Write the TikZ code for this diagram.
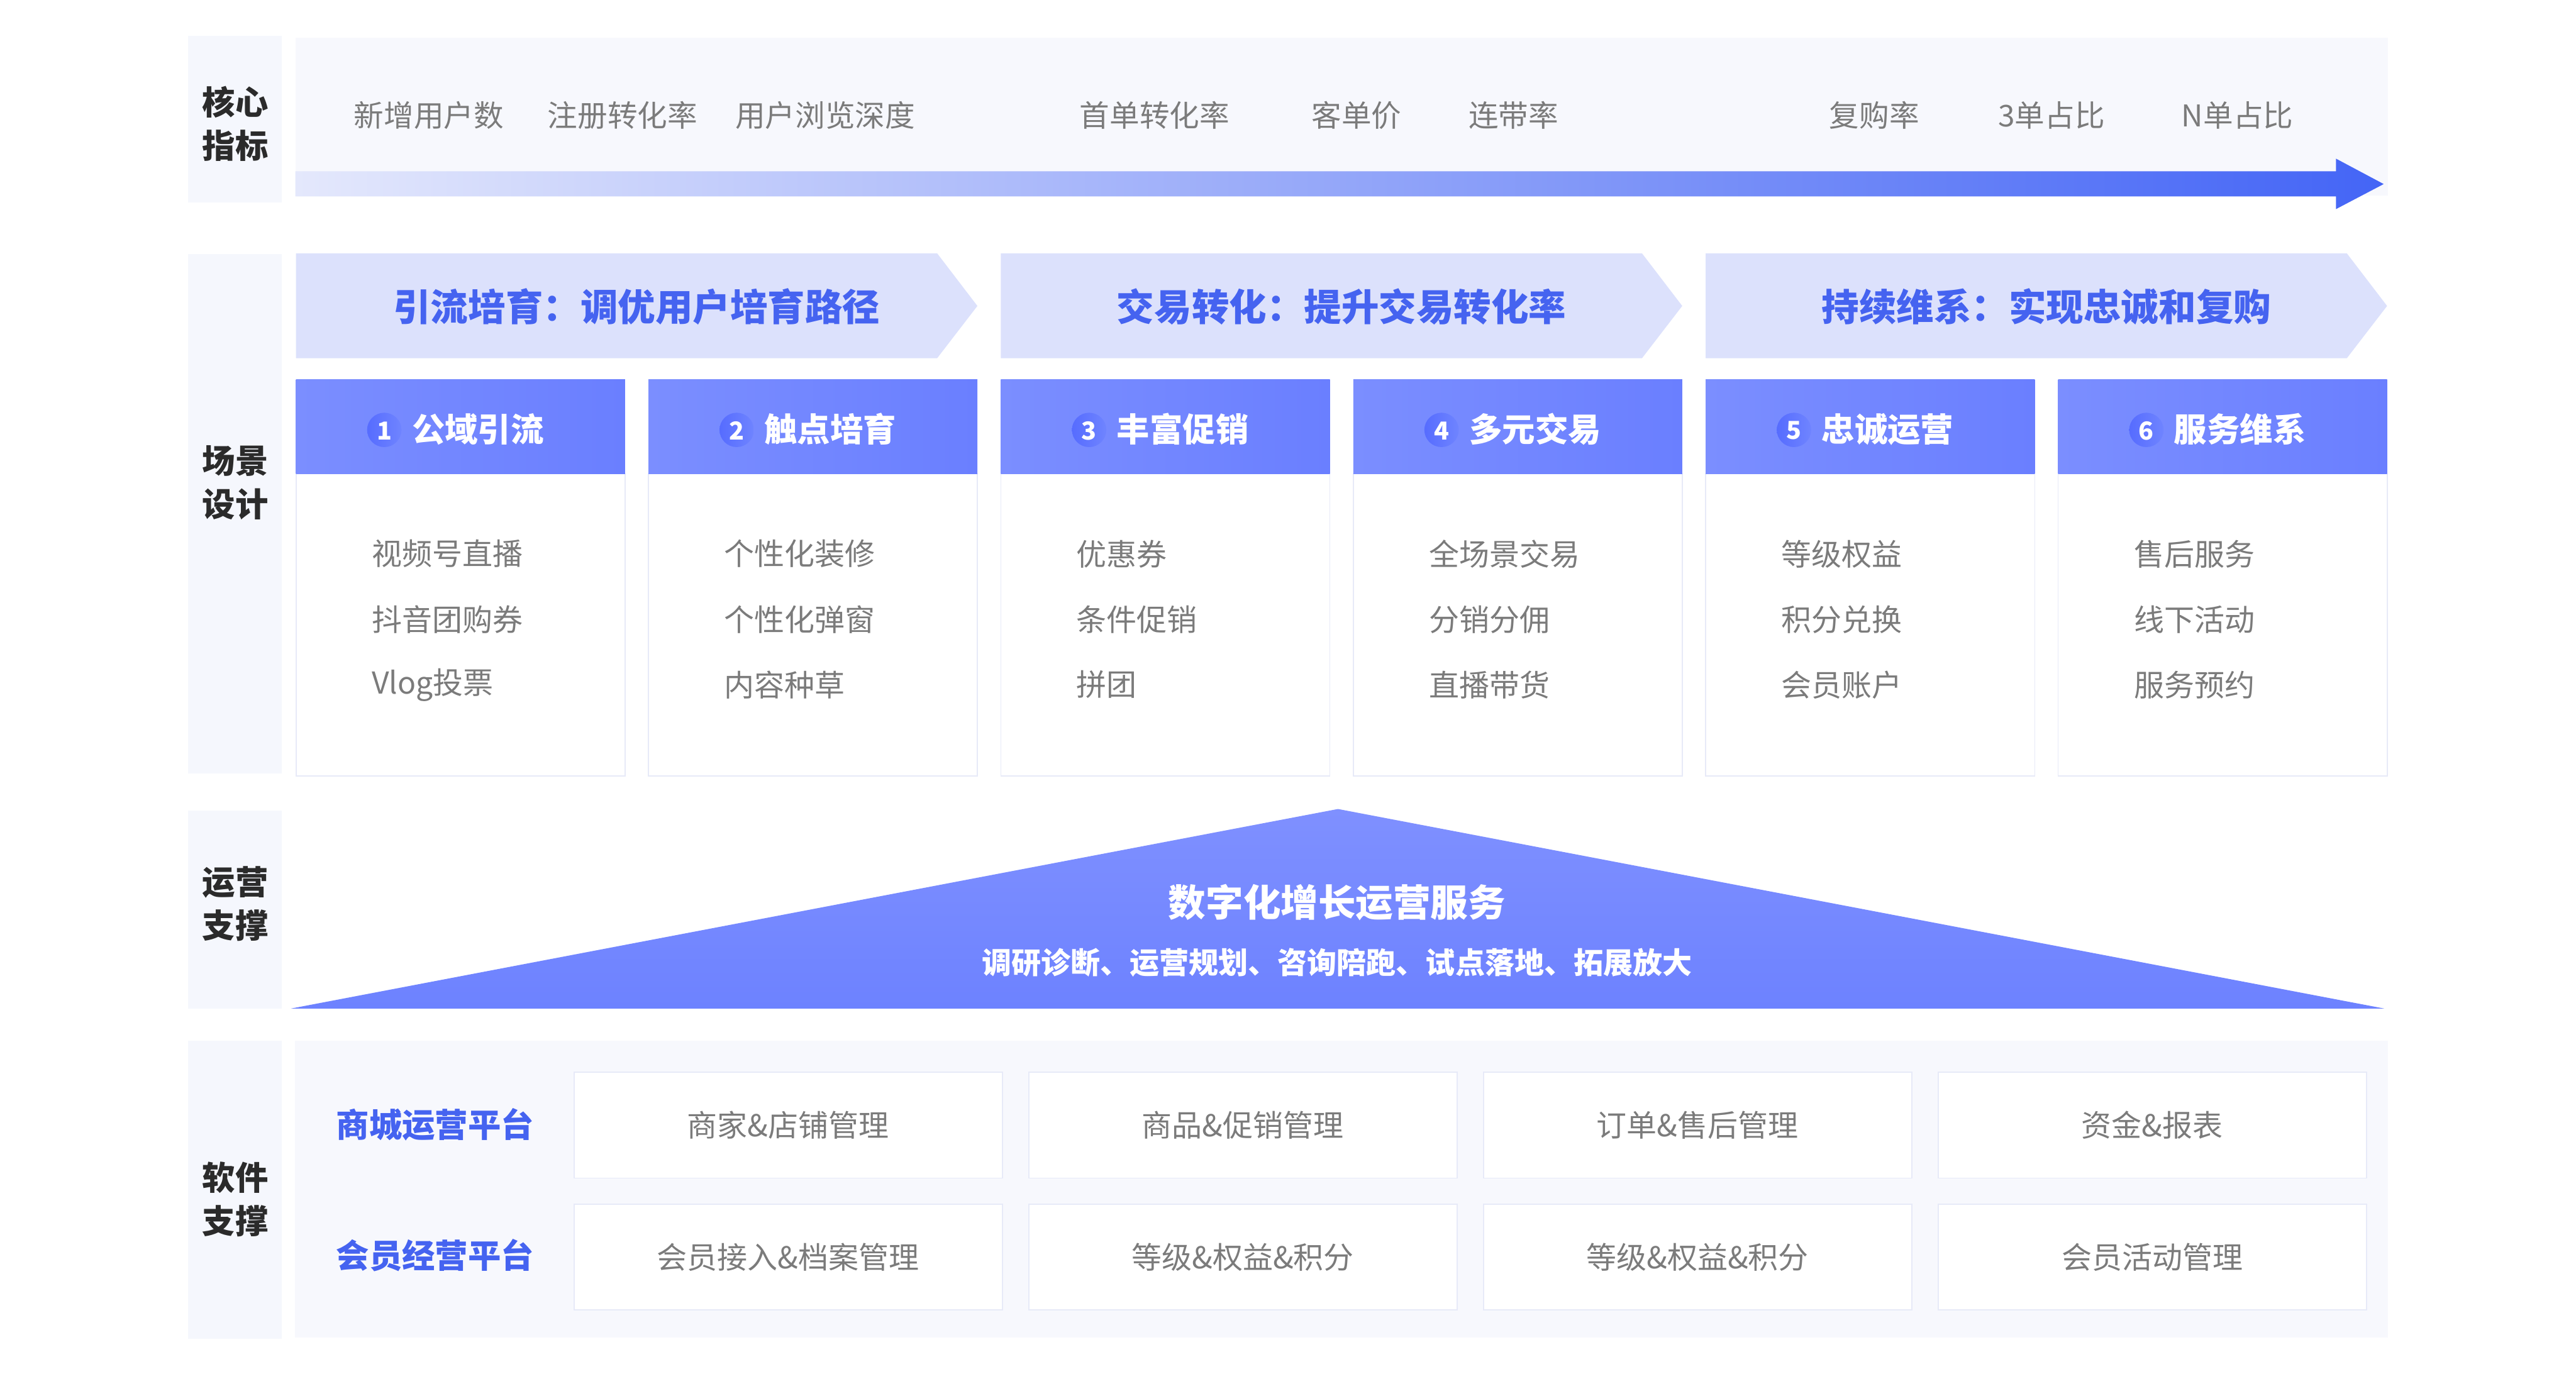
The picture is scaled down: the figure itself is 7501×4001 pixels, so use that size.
\documentclass[tikz,border=0pt]{standalone}
\usepackage{fontspec}
\setmainfont{Noto Sans CJK SC}
\definecolor{labbg}{HTML}{F5F7FD}
\definecolor{panbg}{HTML}{F7F8FD}
\definecolor{banbg}{HTML}{DCE1FC}
\definecolor{bluetxt}{HTML}{4563F0}
\definecolor{hdrL}{HTML}{7B8EFF}
\definecolor{hdrR}{HTML}{6A7FFF}
\definecolor{cirL}{HTML}{566CFF}
\definecolor{cirR}{HTML}{6F84FF}
\definecolor{triT}{HTML}{7F90FF}
\definecolor{triB}{HTML}{6D82FF}
\definecolor{graytxt}{HTML}{7B7B7B}
\definecolor{darktxt}{HTML}{2B2B2B}
\definecolor{cardline}{HTML}{E7EAF8}
\definecolor{arrL}{HTML}{E4E8FC}
\definecolor{arrR}{HTML}{4465F6}
\begin{document}
\begin{tikzpicture}[x=0.01cm,y=-0.01cm,
  lab/.style={font=\fontsize{27.3pt}{35.8pt}\selectfont\bfseries, text=darktxt, align=center, inner sep=0},
  metric/.style={font=\fontsize{24.8pt}{30pt}\selectfont, text=graytxt, inner sep=0},
  item/.style={font=\fontsize{25pt}{30pt}\selectfont, text=graytxt, inner sep=0, anchor=west},
  bantxt/.style={font=\fontsize{31pt}{36pt}\selectfont\bfseries, text=bluetxt, inner sep=0},
  hdrtxt/.style={font=\fontsize{27.3pt}{32pt}\selectfont\bfseries, text=white, inner sep=0, anchor=west},
  numtxt/.style={font=\fontsize{20.5pt}{24pt}\selectfont\bfseries, text=white, inner sep=0},
  swbox/.style={draw=cardline, line width=0.03cm, fill=white},
  swtxt/.style={font=\fontsize{25pt}{30pt}\selectfont, text=graytxt, inner sep=0},
  plattxt/.style={font=\fontsize{27.3pt}{32pt}\selectfont\bfseries, text=bluetxt, inner sep=0}]
\useasboundingbox (0,0) rectangle (7501,4001);
\fill[white] (0,0) rectangle (7501,4001);

% ---------- row 1: core metrics ----------
\fill[labbg] (548,105) rectangle (821,590);
\node[lab] (labA) at (685,361) {核心\\指标};
\fill[panbg] (860,109) rectangle (6954,570);
\shade[left color=arrL, right color=arrR]
  (860,499) -- (6802,499) -- (6802,462) -- (6941,536) -- (6802,609) -- (6802,572) -- (860,572) -- cycle;
\node[metric] (m1) at (1249,336) {新增用户数};
\node[metric] (m2) at (1813,336) {注册转化率};
\node[metric] (m3) at (2403,336) {用户浏览深度};
\node[metric] (m4) at (3362,336) {首单转化率};
\node[metric] (m5) at (3950,336) {客单价};
\node[metric] (m6) at (4407,336) {连带率};
\node[metric] (m7) at (5458,336) {复购率};
\node[metric] (m8) at (5974,336) {3单占比};
\node[metric] (m9) at (6515,336) {N单占比};

% ---------- row 2: scene design ----------
\fill[labbg] (548,739) rectangle (821,2253);
\node[lab] (labB) at (685,1405) {场景\\设计};

\foreach \i/\t in {0/引流培育：调优用户培育路径,1/交易转化：提升交易转化率,2/持续维系：实现忠诚和复购}{
  \pgfmathsetmacro\bx{862+2052.4*\i}
  \fill[banbg] (\bx,738) -- (\bx+1867,738) -- (\bx+1984,891) -- (\bx+1867,1043) -- (\bx,1043) -- cycle;
  \node[bantxt] (ban\i) at (\bx+992,893) {\t};
}

\foreach \i/\n/\t/\a/\b/\c in {
  0/1/公域引流/视频号直播/抖音团购券/Vlog投票,
  1/2/触点培育/个性化装修/个性化弹窗/内容种草,
  2/3/丰富促销/优惠券/条件促销/拼团,
  3/4/多元交易/全场景交易/分销分佣/直播带货,
  4/5/忠诚运营/等级权益/积分兑换/会员账户,
  5/6/服务维系/售后服务/线下活动/服务预约}{
  \pgfmathsetmacro\cx{862+1026.2*\i}
  \draw[cardline, line width=0.03cm, fill=white] (\cx,1380) rectangle (\cx+958,2260);
  \shade[left color=hdrL, right color=hdrR] (\cx,1105) rectangle (\cx+958,1380);
  \shade[left color=cirL, right color=cirR] (\cx+257,1252) circle (0.5cm);
  \node[numtxt] (num\i) at (\cx+257,1254) {\n};
  \node[hdrtxt] (hdr\i) at (\cx+337,1250) {\t};
  \node[item] (it\i a) at (\cx+220,1613) {\a};
  \node[item] (it\i b) at (\cx+220,1804) {\b};
  \node[item] (it\i c) at (\cx+220,1994) {\c};
}

% ---------- row 3: operations support ----------
\fill[labbg] (548,2360) rectangle (821,2937);
\node[lab] (labC) at (685,2632) {运营\\支撑};
\shade[top color=triT, bottom color=triB] (3896,2356) -- (6942,2937) -- (848,2937) -- cycle;
\node[font=\fontsize{31pt}{36pt}\selectfont\bfseries, text=white, inner sep=0] (triT) at (3893,2628) {数字化增长运营服务};
\node[font=\fontsize{24.5pt}{30pt}\selectfont\bfseries, text=white, inner sep=0] (triS) at (3893,2804) {调研诊断、运营规划、咨询陪跑、试点落地、拓展放大};

% ---------- row 4: software support ----------
\fill[labbg] (548,3030) rectangle (821,3898);
\node[lab] (labD) at (685,3493) {软件\\支撑};
\fill[panbg] (859,3030) rectangle (6953,3895);
\node[plattxt] (p1) at (1267,3275) {商城运营平台};
\node[plattxt] (p2) at (1267,3655) {会员经营平台};
\foreach \i/\a/\b in {0/商家\&店铺管理/会员接入\&档案管理,1/商品\&促销管理/等级\&权益\&积分,2/订单\&售后管理/等级\&权益\&积分,3/资金\&报表/会员活动管理}{
  \pgfmathsetmacro\sx{1672+1324*\i}
  \draw[swbox] (\sx,3122) rectangle (\sx+1247,3431);
  \node[swtxt] (sa\i) at (\sx+623,3276) {\a};
  \draw[swbox] (\sx,3507) rectangle (\sx+1247,3815);
  \node[swtxt] (sb\i) at (\sx+623,3661) {\b};
}
\end{tikzpicture}
\end{document}
